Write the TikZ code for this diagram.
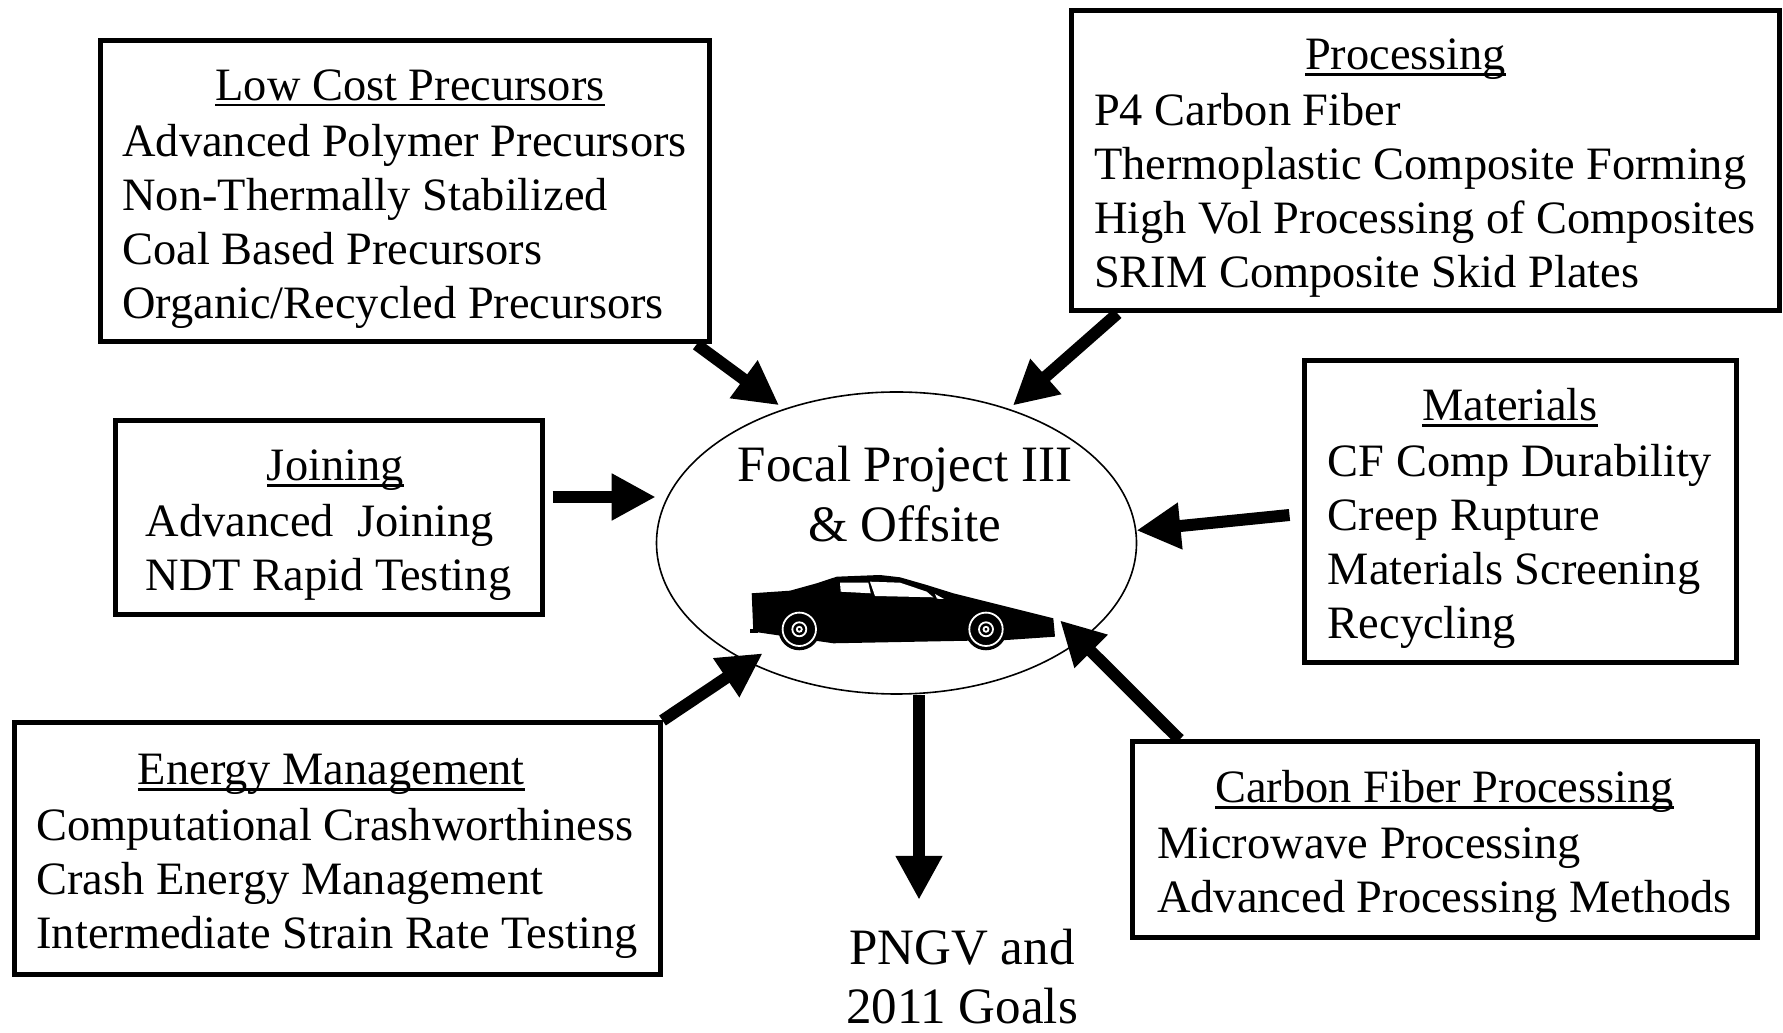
\documentclass[tikz,border=0pt]{standalone}
\usepackage{fontspec}
\setmainfont{Liberation Serif}
\usepackage{tikz}
\usetikzlibrary{positioning, arrows.meta, shapes.geometric}

% underlined heading with the rule kept close to the baseline;
% optional argument nudges it sideways
\newcommand{\paneltitle}[2][0pt]{\hspace*{#1}\sbox0{#2}\rlap{\rule[-3pt]{\wd0}{1.2pt}}\usebox0\hspace*{-#1}}
% box text sits a little below the middle of its frame
\newcommand{\panelbody}[1]{\raisebox{-3.5pt}[\height][\depth]{#1}}

\tikzset{
  panel/.style={draw, rectangle, line width=2.5pt, inner sep=0pt, font=\fontsize{23.2}{27}\selectfont},
  hub/.style={draw, ellipse, line width=0.8pt, inner sep=0pt, minimum width=240pt, minimum height=151pt},
  hubtext/.style={align=center, font=\fontsize{25.5}{30}\selectfont},
  feed/.style={-{Triangle[length=22pt, width=22pt]}, line width=6pt},
  wheelring/.style={draw=white, line width=0.9pt},
}

\begin{document}
\begin{tikzpicture}[x=1pt, y=1pt]
  \useasboundingbox (0,0) rectangle (891.5,516.5);

  % Focal project ellipse in the middle
  \node[hub] (focal) at (448.25,245) {};
  \node[hubtext] (focaltxt) at ([shift={(4.25pt,24.5pt)}]focal.center) {Focal Project III\\\& Offsite};

  % car silhouette, drawn in half-point units
  \coordinate (car) at ([shift={(-73.25pt,-55pt)}]focal.center);
  \begin{scope}[shift={(car)}, x=0.5pt, y=0.5pt]
    \fill (1.7,59.7) -- (40,62.3) -- (66.7,69.7) -- (86.7,76.3) -- (130,78) -- (150,75.7)
      -- (176.7,68) -- (203.3,59.7) -- (243.3,49.7) -- (303.3,34.7) -- (305,16.3)
      -- (256.7,13) -- (83.3,9.7) -- (3.3,21.3) -- cycle;
    \fill (0,20) rectangle (8,24);
    \fill[white] (90,70.3) -- (118.3,70.3) -- (120.7,59.7) -- (90.7,61.3) -- cycle;
    \fill[white] (120,71.3) -- (150,70.3) -- (176.7,61.3) -- (183.3,55.7) -- (125,57) -- cycle;
    \fill[white] (185,59) -- (194,54) -- (187,54.3) -- cycle;
    \foreach \wx in {49.3,236} {
      \fill (\wx,23.7) circle (21);
      \draw[wheelring] (\wx,23.7) circle (16.7) (\wx,23.7) circle (7) (\wx,23.7) circle (2.5);
    }
  \end{scope}

  % topic boxes round the ellipse
  \node[panel, minimum width=304.5pt, minimum height=150.5pt] (lcp) at (202.25,420.75) {\panelbody{%
    \begin{tabular}{@{}l@{}}
      \multicolumn{1}{@{}c@{}}{\paneltitle[2.8pt]{Low Cost Precursors}}\\[1pt]
      Advanced Polymer Precursors\\
      Non-Thermally Stabilized\\
      Coal Based Precursors\\
      Organic/Recycled Precursors
    \end{tabular}}};

  \node[panel, minimum width=354pt, minimum height=150pt] (proc) at (712.5,436) {\panelbody{%
    \begin{tabular}{@{}l@{}}
      \multicolumn{1}{@{}c@{}}{\paneltitle[-9.7pt]{Processing}}\\[1pt]
      P4 Carbon Fiber\\
      Thermoplastic Composite Forming\\
      High Vol Processing of Composites\\
      SRIM Composite Skid Plates
    \end{tabular}}};

  \node[panel, minimum width=213.5pt, minimum height=97pt] (join) at (164.25,257.5) {\panelbody{%
    \begin{tabular}{@{}l@{}}
      \multicolumn{1}{@{}c@{}}{\paneltitle[3.4pt]{Joining}}\\[1pt]
      Advanced~~Joining\\
      NDT Rapid Testing
    \end{tabular}}};

  \node[panel, minimum width=216pt, minimum height=151pt] (mat) at (760,260.5) {\panelbody{%
    \begin{tabular}{@{}l@{}}
      \multicolumn{1}{@{}c@{}}{\paneltitle[-5pt]{Materials}}\\[1pt]
      CF Comp Durability\\
      Creep Rupture\\
      Materials Screening\\
      Recycling
    \end{tabular}}};

  \node[panel, minimum width=323pt, minimum height=126pt] (energy) at (168.5,92) {\panelbody{%
    \begin{tabular}{@{}l@{}}
      \multicolumn{1}{@{}c@{}}{\paneltitle[-2.8pt]{Energy Management}}\\[1pt]
      Computational Crashworthiness\\
      Crash Energy Management\\
      Intermediate Strain Rate Testing
    \end{tabular}}};

  \node[panel, minimum width=312.5pt, minimum height=98pt] (cfp) at (722.25,96.5) {\panelbody{%
    \begin{tabular}{@{}l@{}}
      \multicolumn{1}{@{}c@{}}{\paneltitle{Carbon Fiber Processing}}\\[1pt]
      Microwave Processing\\
      Advanced Processing Methods
    \end{tabular}}};

  % arrows into the ellipse
  \draw[feed, shorten >=3pt] ([xshift=-7.5pt]lcp.south east) -- (focal.130);
  \draw[feed, shorten >=2.5pt] ([xshift=24.5pt]proc.south west) -- (focal.50);
  \draw[feed] ([shift={(4pt,10.5pt)}]join.east) coordinate (jn) -- (jn -| focal.west);
  \draw[feed] ([shift={(-6pt,-1.5pt)}]mat.west) -- (focal.3);
  \draw[feed, shorten >=-8.5pt] (energy.north east) -- (focal.219);
  \draw[feed, shorten >=-14.5pt] ([xshift=25pt]cfp.north west) -- (focal.332);

  % outcome below
  \draw[feed] ([xshift=11.25pt]focal.south) -- ++(0,-102.5pt) coordinate (goaltip);
  \node[hubtext, font=\fontsize{25.5}{29.5}\selectfont] (goals) at (481,28) {PNGV and\\2011 Goals};
\end{tikzpicture}
\end{document}
